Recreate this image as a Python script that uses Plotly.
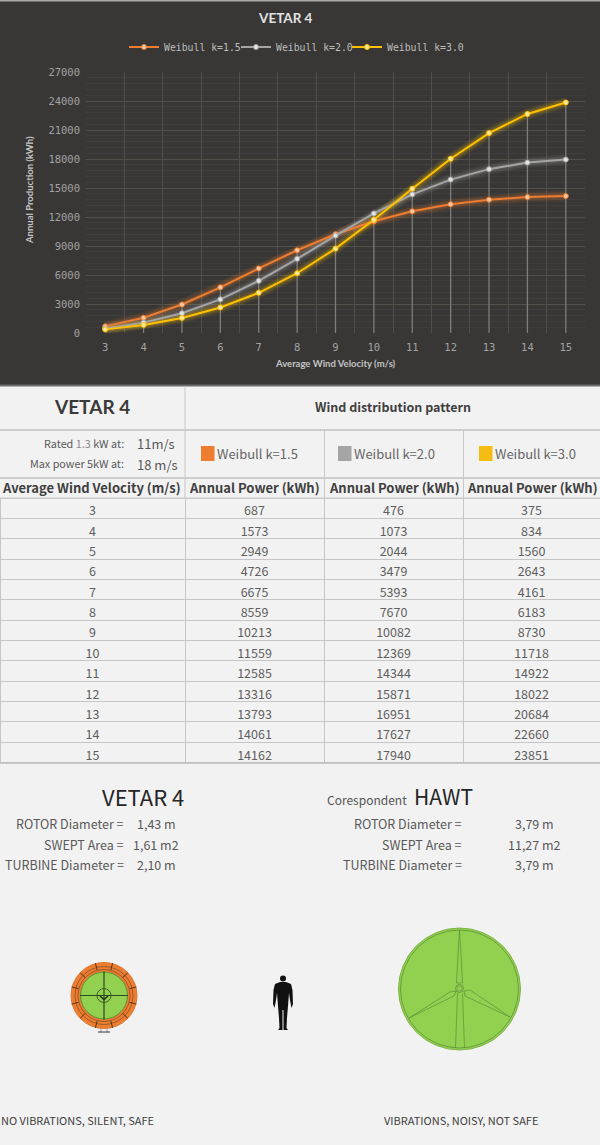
import plotly.graph_objects as go

W, H = 600, 1145

wind = [3, 4, 5, 6, 7, 8, 9, 10, 11, 12, 13, 14, 15]
k15 = [687, 1573, 2949, 4726, 6675, 8559, 10213, 11559, 12585, 13316, 13793, 14061, 14162]
k20 = [476, 1073, 2044, 3479, 5393, 7670, 10082, 12369, 14344, 15871, 16951, 17627, 17940]
k30 = [375, 834, 1560, 2643, 4161, 6183, 8730, 11718, 14922, 18022, 20684, 22660, 23851]
names = ["Weibull k=1.5", "Weibull k=2.0", "Weibull k=3.0"]
colors = ["#ed7d31", "#a5a5a5", "#ffc000"]
swatches = ["#ef7d30", "#a5a5a5", "#f5bd14"]
tints = ["#f8c9a6", "#e4e4e4", "#ffe9a0"]
y_ticks = [0, 3000, 6000, 9000, 12000, 15000, 18000, 21000, 24000, 27000]
table_head = ["Average Wind Velocity (m/s)", "Annual Power (kWh)", "Annual Power (kWh)", "Annual Power (kWh)"]

TEXT_FONT = "Noto Sans CJK SC"
NARROW = "Lato"
MONO = "DejaVu Sans Mono"


def px(x):
    return x / W


def py(y):
    return 1 - y / H


def path(points, close=True):
    s = "M" + " L".join(f"{px(x):.5f},{py(y):.5f}" for x, y in points)
    return s + (" Z" if close else "")


shapes = []
annotations = []


def rect(x0, y0, x1, y1, fill, layer="below"):
    shapes.append(dict(type="rect", xref="paper", yref="paper", x0=px(x0), x1=px(x1), y0=py(y0), y1=py(y1),
                       fillcolor=fill, line_width=0, layer=layer))


def seg(x0, y0, x1, y1, color, width=1):
    shapes.append(dict(type="line", xref="paper", yref="paper", x0=px(x0), x1=px(x1), y0=py(y0), y1=py(y1),
                       line=dict(color=color, width=width)))


def circle(cx, cy, r, fill=None, line=None, width=1):
    shapes.append(dict(type="circle", xref="paper", yref="paper", x0=px(cx - r), x1=px(cx + r),
                       y0=py(cy + r), y1=py(cy - r), fillcolor=fill or "rgba(0,0,0,0)",
                       line=dict(color=line or "rgba(0,0,0,0)", width=width if line else 0)))


def poly(points, fill=None, line=None, width=1, close=True):
    shapes.append(dict(type="path", xref="paper", yref="paper", path=path(points, close),
                       fillcolor=fill or "rgba(0,0,0,0)",
                       line=dict(color=line or "rgba(0,0,0,0)", width=width if line else 0)))


def label(x, y, text, size=13, color="#404040", anchor="center", family=TEXT_FONT, angle=0):
    annotations.append(dict(xref="paper", yref="paper", x=px(x), y=py(y), text=text, showarrow=False,
                            xanchor=anchor, yanchor="middle", textangle=angle,
                            font=dict(family=family, size=size, color=color)))


fig = go.Figure()

# chart panel
rect(0, 0, 600, 385, "#383735")
rect(0, 0, 600, 1.5, "#a9a9a6")
rect(0, 384.5, 600, 386.5, "#6b6b6b")

# drop lines under the series
tops = [max(a, b, c) for a, b, c in zip(k15, k20, k30)]
fig.add_trace(go.Scatter(x=wind, y=tops, mode="none", showlegend=False, hoverinfo="skip",
                         error_y=dict(type="data", symmetric=False, array=[0] * len(wind), arrayminus=tops,
                                      color="#7d7d7b", thickness=1.3, width=0)))
# carries the vertical grid between the categories
fig.add_trace(go.Scatter(x=wind, y=k15, xaxis="x2", mode="none", showlegend=False, hoverinfo="skip"))

series = [k15, k20, k30]
for vals, color in zip(series, colors):
    for w, op in [(11, 0.07), (8, 0.10), (5, 0.16)]:
        fig.add_trace(go.Scatter(x=wind, y=vals, mode="lines", showlegend=False, hoverinfo="skip",
                                 opacity=op, line=dict(color=color, width=w)))
# one legend per series, the single legend spaces them too wide
for vals, name, color, tint, leg in zip(series, names, colors, tints, ["legend", "legend2", "legend3"]):
    fig.add_trace(go.Scatter(x=wind, y=vals, name=name, mode="lines+markers", legend=leg,
                             line=dict(color=color, width=2),
                             marker=dict(size=5, color=tint, line=dict(color=color, width=1))))

# table body, header goes in as text because the table wraps it
fig.add_trace(go.Table(
    domain=dict(x=[0, 1], y=[py(764), py(498)]),
    columnwidth=[185, 139, 139, 137],
    header=dict(values=[""] * 4, height=0, fill_color="#f2f2f2", line=dict(color="#c6c6c6", width=0),
                font=dict(size=1)),
    cells=dict(values=[wind, k15, k20, k30], height=20.35,
               fill_color="#f2f2f2", line=dict(color="#c6c6c6", width=1), align="center",
               font=dict(family=TEXT_FONT, size=12.5, color="#5f5f5f")),
))

# table head lines
for y, w in [(430, 2), (478, 2), (498, 1)]:
    seg(0, y, 600, y, "#cdcdcd", w)
seg(185, 386, 185, 498, "#c6c6c6")
seg(324.5, 430, 324.5, 498, "#c6c6c6")
seg(463.5, 430, 463.5, 498, "#c6c6c6")
seg(0, 763, 600, 763, "#bdbdbd", 1.5)
for x, t in zip([91, 254.5, 394, 532], table_head):
    label(x, 488, f"<b>{t}</b>", 13, "#404040")

label(285, 18, "<b>VETAR 4</b>", 13.5, "#e2e2e2", family=NARROW)
label(30, 190, "<b>Annual Production (kWh)</b>", 9.5, "#c4c4c4", family=NARROW, angle=-90)
label(335, 363, "<b>Average Wind Velocity (m/s)</b>", 9.5, "#c4c4c4", family=NARROW)

label(92, 407, "<b>VETAR 4</b>", 19, "#3a3a3a", family=NARROW)
label(393, 407, "<b>Wind distribution pattern</b>", 12.5, "#404040")
label(126, 443, "Rated <span style='color:#8a8a8a'>1.3</span> kW at:", 10.8, "#595959", "right")
label(126, 463, "Max power 5kW at:", 10.8, "#595959", "right")
label(135, 443, "11m/s", 13, "#595959", "left")
label(135, 464, "18 m/s", 13, "#595959", "left")
for x, name, color in zip([201, 338, 479], swatches and names, swatches):
    rect(x, 446, x + 13.5, 461, color, "above")
for x, name in zip([201, 338, 479], names):
    label(x + 14, 453.5, name, 13, "#666666", "left")

# size comparison block
label(143, 796, "VETAR 4", 22, "#262626")
label(325, 799, "Corespondent", 12, "#555555", "left")
label(443, 796, "HAWT", 21, "#262626")
rows = ["ROTOR Diameter =", "SWEPT Area =", "TURBINE Diameter ="]
small_vals = ["1,43 m", "1,61 m2", "2,10 m"]
hawt_vals = ["3,79 m", "11,27 m2", "3,79 m"]
for y, row, a, b in zip([824, 844, 864], rows, small_vals, hawt_vals):
    label(126, y, row, 12.5, "#595959", "right")
    label(156, y, a, 12.5, "#595959")
    label(464, y, row, 12.5, "#595959", "right")
    label(534, y, b, 12.5, "#595959")
label(-1, 1120, "NO VIBRATIONS, SILENT, SAFE", 11, "#404040", "left")
label(382, 1120, "VIBRATIONS, NOISY, NOT SAFE", 11, "#404040", "left")

# VETAR icon
cx, cy = 104, 995.5
circle(cx, cy, 33, "#ed7d31", "#d9772f", 1)
circle(cx, cy, 29, None, "#7a4a22", 0.7)
circle(cx, cy, 26, None, "#7a4a22", 0.7)
circle(cx, cy, 23.5, "#92d050", "#5f8f36", 1)
seg(cx - 24, cy, cx + 24, cy, "#2d4a1c", 1.2)
seg(cx, cy - 24, cx, cy + 24, "#2d4a1c", 1.2)
circle(cx, cy, 7, None, "#2d4a1c", 0.8)
poly([(cx - 4, cy + 0.5), (cx, cy + 4), (cx + 4, cy + 0.5)], None, "#1c2e10", 1.4, close=False)
for dx, dy in [(8, -30), (-8, -30), (22, -21), (-22, -21), (30, -8), (-30, -8),
               (30, 8), (-30, 8), (22, 21), (-22, 21), (8, 30), (-8, 30)]:
    seg(cx + dx * 0.85, cy + dy * 0.85, cx + dx * 1.08, cy + dy * 1.08, "#5a3518", 1)
seg(cx - 3, cy + 33, cx - 3, cy + 37, "#999999", 1)
seg(cx + 3, cy + 33, cx + 3, cy + 37, "#999999", 1)
seg(cx - 6, cy + 36.5, cx + 6, cy + 36.5, "#555555", 1.2)

# human
hx = 283
circle(hx, 978.5, 3, "#111111")
poly([(hx - 3, 982), (hx + 3, 982), (hx + 8, 984), (hx + 9.5, 990), (hx + 10, 1004), (hx + 8.5, 1008),
      (hx + 7, 1000), (hx + 6, 993), (hx + 5, 1006), (hx + 4, 1018), (hx + 3.5, 1028), (hx + 5, 1030),
      (hx + 0.5, 1030), (hx + 0.5, 1010), (hx - 0.5, 1010), (hx - 0.5, 1030), (hx - 5, 1030),
      (hx - 3.5, 1028), (hx - 4, 1018), (hx - 5, 1006), (hx - 6, 993), (hx - 7, 1000), (hx - 8.5, 1008),
      (hx - 10, 1004), (hx - 9.5, 990), (hx - 8, 984)], "#111111")

# HAWT icon
hc_x, hc_y = 459.5, 989
blade = "#5f8f3a"
circle(hc_x, hc_y, 61, "#92d050", "#7fb548", 1)
circle(hc_x, hc_y, 59, None, blade, 0.8)
poly([(456.5, 983), (458, 955), (459.5, 930), (461, 955), (462.5, 983)], None, blade, 0.7)
poly([(456, 991), (450, 992), (409, 1018), (454, 996)], None, blade, 0.7)
poly([(464, 991), (470, 990), (510, 1017), (465, 996)], None, blade, 0.7)
seg(457.5, 993, 455.5, 1048, blade, 0.7)
seg(462.5, 993, 464.5, 1048, blade, 0.7)
circle(hc_x, hc_y - 0.5, 4, None, blade, 0.8)
circle(hc_x, hc_y - 0.5, 2.6, None, blade, 0.6)


def one_legend(x):
    return dict(orientation="h", xref="paper", yref="paper", x=px(x), y=py(47), xanchor="left", yanchor="middle",
                bgcolor="rgba(0,0,0,0)", font=dict(family=MONO, size=9.8, color="#bdbdbd"), itemwidth=30)


fig.update_layout(
    width=W, height=H, autosize=False,
    margin=dict(l=0, r=0, t=0, b=0, autoexpand=False),
    paper_bgcolor="#f2f2f2",
    plot_bgcolor="rgba(0,0,0,0)",
    shapes=shapes,
    annotations=annotations,
    hovermode=False,
    legend=one_legend(124),
    legend2=one_legend(236),
    legend3=one_legend(347),
    xaxis=dict(domain=[px(86), px(585)], range=[2.5, 15.5], tickmode="array", tickvals=wind,
               showgrid=False, zeroline=False, showline=False, ticks="", ticklabelstandoff=6,
               tickfont=dict(family=MONO, size=10.5, color="#a2a2a2")),
    xaxis2=dict(domain=[px(86), px(585)], range=[2.5, 15.5], overlaying="x", anchor="y", tick0=2.5, dtick=1,
                showgrid=True, gridcolor="#4f4e4c", gridwidth=1, showticklabels=False, zeroline=False, ticks=""),
    yaxis=dict(domain=[py(333), py(72)], range=[0, 27000], tickmode="array", tickvals=y_ticks, tickformat="d",
               gridcolor="#525149", gridwidth=1, zeroline=False, showline=False, ticks="", ticklabelstandoff=5,
               minor=dict(dtick=600, showgrid=True, gridcolor="#403f3d", gridwidth=1),
               tickfont=dict(family=MONO, size=10.5, color="#a2a2a2")),
)

fig.write_html("out.html", config={"displayModeBar": False}, post_script="document.body.style.margin='0';")
